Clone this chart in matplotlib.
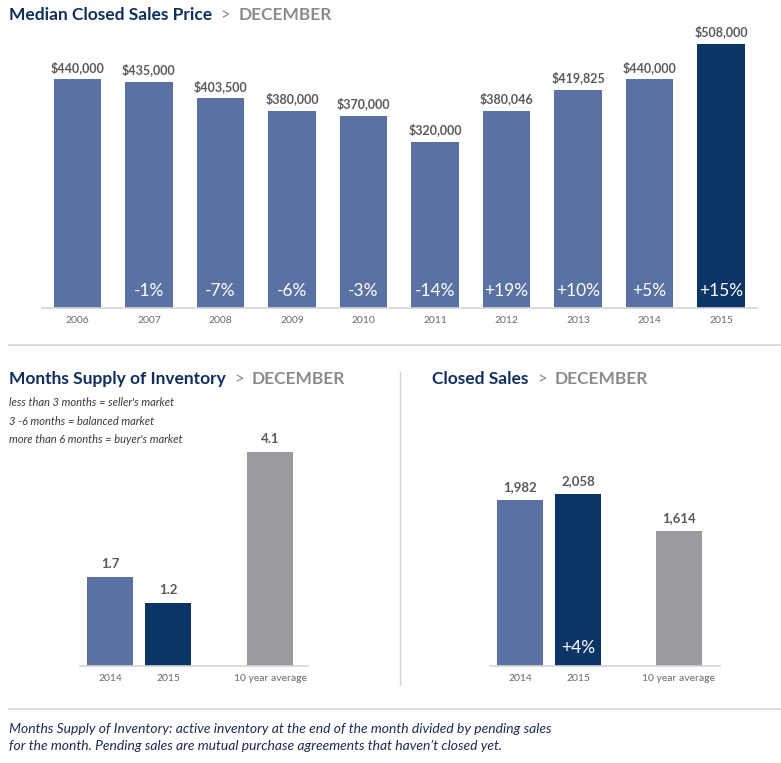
import matplotlib
matplotlib.use("Agg")
from matplotlib import pyplot as plt

# data
years = ["2006", "2007", "2008", "2009", "2010", "2011", "2012", "2013", "2014", "2015"]
median_price = [440000, 435000, 403500, 380000, 370000, 320000, 380046, 419825, 440000, 508000]
price_change = ["", "-1%", "-7%", "-6%", "-3%", "-14%", "+19%", "+10%", "+5%", "+15%"]

supply_labels = ["2014", "2015", "10 year average"]
supply_values = [1.7, 1.2, 4.1]

sales_labels = ["2014", "2015", "10 year average"]
sales_values = [1982, 2058, 1614]
sales_change = ["", "+4%", ""]

BLUE = "#5a72a3"
NAVY = "#0b3566"
GRAY = "#9a9b9f"
TITLE = "#102f5f"
LABEL = "#5a5a5a"
TICK = "#6a6a6a"
RULE = "#d4d4d4"

plt.rcParams["font.family"] = ["Lato", "DejaVu Sans"]

W, H = 781, 763
fig = plt.figure(figsize=(W / 100, H / 100), dpi=100)


def box(x0, y0, x1, y1):
    # pixel box (top-left origin) -> figure fraction rect
    return [x0 / W, 1 - y1 / H, (x1 - x0) / W, (y1 - y0) / H]


def title(x, y, main):
    t = fig.text(x / W, 1 - y / H, main, fontsize=12.5, fontweight="bold",
                 color=TITLE, va="center", ha="left")
    a = plt.annotate(">", xy=(1, 0.5), xycoords=t, xytext=(6, 0),
                     textcoords="offset points", fontsize=12, color="#8c8c8c",
                     va="center", ha="left", annotation_clip=False)
    plt.annotate("DECEMBER", xy=(1, 0.5), xycoords=a, xytext=(6, 0),
                 textcoords="offset points", fontsize=12.5, fontweight="bold",
                 color="#8c8c8c", va="center", ha="left", annotation_clip=False)


def style(ax):
    for s in ["top", "right", "left"]:
        ax.spines[s].set_visible(False)
    ax.spines["bottom"].set_color(RULE)
    ax.spines["bottom"].set_linewidth(1.2)
    ax.set_yticks([])
    ax.tick_params(axis="x", length=0, pad=6, labelsize=7.5, labelcolor=TICK)
    ax.patch.set_alpha(0)


# --- top chart
ax1 = fig.add_axes(box(41.75, 30, 756.75, 308))
x1 = list(range(len(years)))
colors1 = [BLUE] * (len(years) - 1) + [NAVY]
ax1.bar(x1, median_price, width=0.66, color=colors1)
ax1.set_xlim(-0.5, len(years) - 0.5)
ax1.set_ylim(0, 535000)
ax1.set_xticks(x1)
ax1.set_xticklabels(years)
style(ax1)
for xi, v, c in zip(x1, median_price, price_change):
    ax1.annotate(f"${v:,.0f}", (xi, v), xytext=(0, 4), textcoords="offset points",
                 ha="center", va="bottom", fontsize=9, fontweight="bold", color=LABEL)
    if c:
        ax1.annotate(c, (xi, 0), xytext=(0, 12), textcoords="offset points",
                     ha="center", va="center", fontsize=12.5, color="white")
plt.sca(ax1)
title(9, 15, "Median Closed Sales Price")

# --- bottom left
ax2 = fig.add_axes(box(80, 440, 308, 666))
x2 = [0, 1, 2.76]
ax2.bar(x2, supply_values, width=0.79, color=[BLUE, NAVY, GRAY])
ax2.set_xlim(-0.52, 3.41)
ax2.set_ylim(0, 4.33)
ax2.set_xticks(x2)
ax2.set_xticklabels(supply_labels)
style(ax2)
for xi, v in zip(x2, supply_values):
    ax2.annotate(f"{v:.1f}", (xi, v), xytext=(0, 5), textcoords="offset points",
                 ha="center", va="bottom", fontsize=9.5, fontweight="bold", color=LABEL)
plt.sca(ax2)
title(9, 379, "Months Supply of Inventory")
notes = ["less than 3 months = seller's market", "3 -6 months = balanced market",
         "more than 6 months = buyer's market"]
for i, n in enumerate(notes):
    fig.text(9 / W, 1 - (403 + 18 * i) / H, n, fontsize=8, style="italic",
             color="#3a3a3a", va="center", ha="left")

# --- bottom right
ax3 = fig.add_axes(box(490, 440, 720, 666))
x3 = [0, 1, 2.74]
ax3.bar(x3, sales_values, width=0.79, color=[BLUE, NAVY, GRAY])
ax3.set_xlim(-0.52, 3.45)
ax3.set_ylim(0, 2703)
ax3.set_xticks(x3)
ax3.set_xticklabels(sales_labels)
style(ax3)
for xi, v, c in zip(x3, sales_values, sales_change):
    ax3.annotate(f"{v:,}", (xi, v), xytext=(0, 5), textcoords="offset points",
                 ha="center", va="bottom", fontsize=9.5, fontweight="bold", color=LABEL)
    if c:
        ax3.annotate(c, (xi, 0), xytext=(0, 13), textcoords="offset points",
                     ha="center", va="center", fontsize=12.5, color="white")
plt.sca(ax3)
title(432, 379, "Closed Sales")

# separators
fig.add_artist(plt.Line2D([9 / W, 1], [1 - 345 / H] * 2, color=RULE, lw=1.2))
fig.add_artist(plt.Line2D([9 / W, 1], [1 - 709 / H] * 2, color=RULE, lw=1.2))
fig.add_artist(plt.Line2D([400 / W] * 2, [1 - 372 / H, 1 - 685 / H], color=RULE, lw=1.0))

# footnote
foot = ["Months Supply of Inventory: active inventory at the end of the month divided by pending sales",
        "for the month. Pending sales are mutual purchase agreements that haven\u2019t closed yet."]
for i, line in enumerate(foot):
    fig.text(9 / W, 1 - (729 + 17 * i) / H, line, fontsize=10, style="italic",
             color="#1d2b55", va="center", ha="left")

fig.savefig("out.png", dpi=100)
